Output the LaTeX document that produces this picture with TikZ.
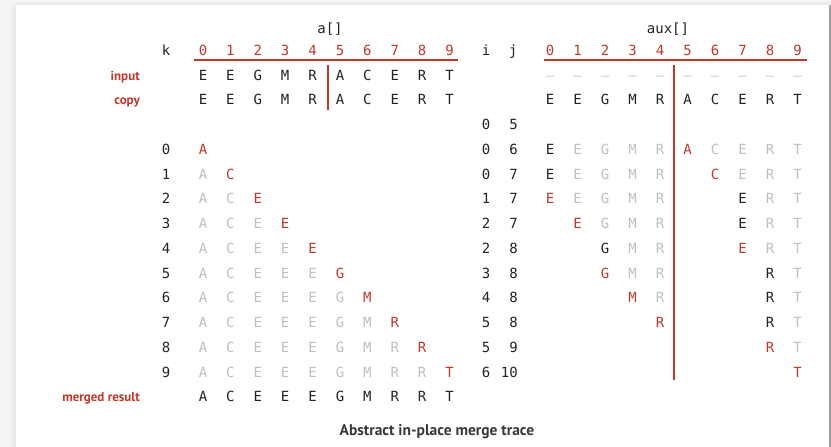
\documentclass[tikz,border=0pt]{standalone}
\usepackage{fontspec}
\newfontfamily\monofont{DejaVu Sans Mono}
\newfontfamily\labfont{PT Sans}
\definecolor{tred}{RGB}{192,57,43}
\definecolor{tgray}{RGB}{192,192,192}
\definecolor{tdash}{RGB}{205,205,205}
\definecolor{tblack}{RGB}{35,35,35}
\definecolor{bggray}{RGB}{244,244,244}
\begin{document}
\begin{tikzpicture}[x=1pt,y=-1pt,
  ch/.style={font=\monofont\fontsize{14}{14}\selectfont, inner sep=0pt, anchor=base},
  tbk/.style={ch, text=tblack},
  tgr/.style={ch, text=tgray},
  trd/.style={ch, text=tred},
  lab/.style={font=\labfont\bfseries\fontsize{13}{14}\selectfont, text=tred, inner sep=0pt, anchor=base east},
  redline/.style={draw=tred, line width=1.4pt}]
\useasboundingbox (0,0) rectangle (831,447);
% card
\fill[bggray] (0,0) rectangle (831,447);
\shade[top color=gray!6, bottom color=gray!22] (16,0) rectangle (829,5);
\shade[left color=bggray, right color=gray!20] (9,5) rectangle (16,447);
\fill[white] (16,5) rectangle (829,447);
\fill[gray!75] (829,5) rectangle (831,447);
% headers
\node[tbk, anchor=base] (ahead) at (330,33) {a[]};
\node[tbk, anchor=base] (auxhead) at (668,33) {aux[]};
\node[tbk] (khead) at (166,56) {k};
\node[tbk] (ihead) at (486,56) {i};
\node[tbk] (jhead) at (513,56) {j};
\foreach \c in {0,...,9} {
  \node[trd] (ai\c) at ({203+27.4*\c},56) {\c};
  \node[trd] (xi\c) at ({550+27.5*\c},56) {\c};
}
\coordinate (aul) at (194,60); \coordinate (aur) at (458,60);
\coordinate (xul) at (544,60); \coordinate (xur) at (807,60);
\draw[redline] (aul) -- (aur);
\draw[redline] (xul) -- (xur);
% labels
\node[lab] (linput) at (140,80) {input};
\node[lab] (lcopy) at (140,104.75) {copy};
\node[lab] (lmerged) at (140,401.75) {merged result};
% input and copy rows
\foreach \L [count=\n from 0] in {E,E,G,M,R,A,C,E,R,T} {
  \node[tbk] (in\n) at ({203+27.4*\n},80) {\L};
  \node[tbk] (cp\n) at ({203+27.4*\n},104.75) {\L};
  \node[ch, text=tdash] (xin\n) at ({550+27.5*\n},80) {–};
  \node[tbk] (xcp\n) at ({550+27.5*\n},104.75) {\L};
}
% dividers
\coordinate (av1) at (328,65); \coordinate (av2) at (328,110);
\draw[redline] (av1) -- (av2);
\coordinate (xv1) at (674,65); \coordinate (xv2) at (674,380);
\draw[redline] (xv1) -- (xv2);
% i j values
\foreach \n/\i/\j in {2/0/5,3/0/6,4/0/7,5/1/7,6/2/7,7/2/8,8/3/8,9/4/8,10/5/8,11/5/9,12/6/10} {
  \node[tbk] (iv\n) at (486,{80+24.75*\n}) {\i};
  \node[tbk, anchor=base east] (jv\n) at (518,{80+24.75*\n}) {\j};
}
% a[] trace
\foreach \k in {0,...,9} {
  \node[tbk] (kv\k) at (166,{80+24.75*(\k+3)}) {\k};
  \foreach \L [count=\c from 0] in {A,C,E,E,E,G,M,R,R,T} {
    \ifnum\c<\k
      \node[tgr] (a\k-\c) at ({203+27.4*\c},{80+24.75*(\k+3)}) {\L};
    \fi
    \ifnum\c=\k
      \node[trd] (a\k-\c) at ({203+27.4*\c},{80+24.75*(\k+3)}) {\L};
    \fi
  }
}
% merged result
\foreach \L [count=\c from 0] in {A,C,E,E,E,G,M,R,R,T} {
  \node[tbk] (m\c) at ({203+27.4*\c},401.75) {\L};
}
% aux trace
\foreach \k/\row in {
  0/{0/tbk/E,1/tgr/E,2/tgr/G,3/tgr/M,4/tgr/R,5/trd/A,6/tgr/C,7/tgr/E,8/tgr/R,9/tgr/T},
  1/{0/tbk/E,1/tgr/E,2/tgr/G,3/tgr/M,4/tgr/R,6/trd/C,7/tgr/E,8/tgr/R,9/tgr/T},
  2/{0/trd/E,1/tgr/E,2/tgr/G,3/tgr/M,4/tgr/R,7/tbk/E,8/tgr/R,9/tgr/T},
  3/{1/trd/E,2/tgr/G,3/tgr/M,4/tgr/R,7/tbk/E,8/tgr/R,9/tgr/T},
  4/{2/tbk/G,3/tgr/M,4/tgr/R,7/trd/E,8/tgr/R,9/tgr/T},
  5/{2/trd/G,3/tgr/M,4/tgr/R,8/tbk/R,9/tgr/T},
  6/{3/trd/M,4/tgr/R,8/tbk/R,9/tgr/T},
  7/{4/trd/R,8/tbk/R,9/tgr/T},
  8/{8/trd/R,9/tgr/T},
  9/{9/trd/T}} {
  \foreach \c/\s/\L in \row {
    \node[\s] (x\k-\c) at ({550+27.5*\c},{80+24.75*(\k+3)}) {\L};
  }
}
% caption
\node[font=\labfont\bfseries\fontsize{15.5}{17}\selectfont, text=tblack!90, anchor=base] (cap) at (437,435) {Abstract in-place merge trace};
\end{tikzpicture}
\end{document}
